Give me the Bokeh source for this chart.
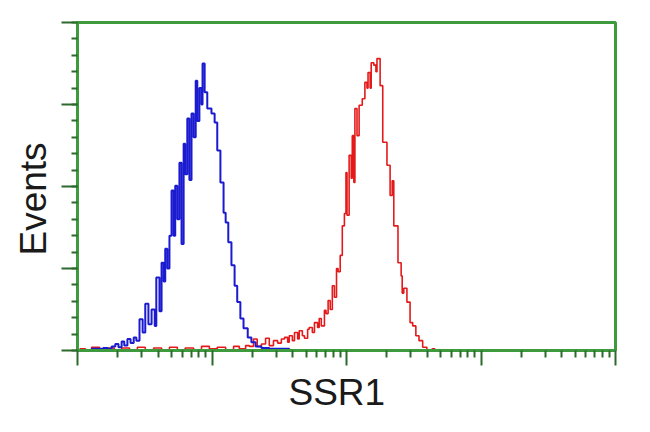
from bokeh.plotting import figure
from bokeh.models import Range1d, FixedTicker, CustomJSTickFormatter, Title
from bokeh.embed import file_html
from bokeh.resources import INLINE

# Histogram data: channel (0-1024 over 4 log decades) and event counts
blue_channel = [4, 19, 27, 38, 49, 57, 65, 72, 78, 84, 89, 95, 101, 107, 112, 118, 124, 129, 135, 141,
                147, 150, 156, 160, 164, 167, 171, 175, 179, 183, 186, 190, 194, 198, 202, 205, 209, 213,
                217, 221, 225, 228, 232, 236, 238, 242, 247, 255, 261, 266, 272, 278, 282, 287, 293, 299,
                304, 310, 316, 324, 331, 339, 350, 365, 384, 403, 422]
blue_counts = [0, 0, 2, 2, 3, 2, 5, 8, 4, 11, 6, 14, 9, 16, 12, 38, 22, 57, 32, 50,
               30, 89, 48, 107, 84, 124, 100, 140, 195, 140, 201, 160, 229, 130, 252, 215, 283, 208,
               289, 260, 329, 280, 320, 300, 350, 315, 295, 289, 278, 244, 205, 168, 156, 132, 104, 79,
               59, 39, 27, 16, 10, 5, 3, 2, 2, 0, 0]

red_channel = [4, 15, 27, 42, 57, 70, 84, 99, 114, 129, 145, 160, 175, 190, 205, 221, 236, 251, 266, 282,
               297, 308, 320, 327, 335, 342, 350, 358, 365, 373, 381, 388, 394, 400, 403, 409, 413, 419,
               422, 428, 432, 438, 441, 447, 451, 457, 460, 464, 470, 473, 477, 481, 485, 489, 493, 496,
               500, 504, 508, 511, 513, 517, 521, 523, 526, 528, 532, 536, 542, 547, 551, 553, 557, 559,
               564, 568, 570, 576, 581, 589, 595, 599, 602, 610, 616, 618, 621, 627, 633, 638, 644, 650,
               657, 665, 675, 680, 697]
red_counts = [2, 0, 4, 1, 3, 0, 3, 1, 4, 1, 3, 0, 4, 1, 3, 1, 5, 2, 4, 1,
              5, 2, 6, 5, 14, 5, 8, 15, 6, 12, 9, 14, 16, 10, 18, 12, 22, 14,
              24, 18, 15, 26, 28, 22, 34, 28, 39, 30, 49, 45, 61, 50, 79, 65, 100, 96,
              116, 152, 167, 217, 165, 238, 210, 262, 205, 295, 262, 299, 307, 327, 320, 339, 320, 351,
              348, 340, 356, 323, 254, 226, 189, 207, 152, 107, 91, 70, 76, 59, 34, 30, 18, 12,
              4, 0, 2, 0, 0]

x_label = "SSR1"
y_label = "Events"

CH_PER_DECADE = 256.0
blue_x = [10 ** (c / CH_PER_DECADE) for c in blue_channel]
red_x = [10 ** (c / CH_PER_DECADE) for c in red_channel]

GREEN = "#3d9a3d"
TICK = "#2c6a2c"

p = figure(width=650, height=432, output_backend="svg", toolbar_location=None,
           x_axis_type="log", x_range=Range1d(1, 10000), y_range=Range1d(0, 400),
           min_border_left=77, min_border_right=35, min_border_top=22, min_border_bottom=82)

p.step(red_x, red_counts, mode="after", line_color="#e41a1a", line_width=1.6)
p.step(blue_x, blue_counts, mode="after", line_color="#1a1ad0", line_width=2)

p.xgrid.visible = False
p.ygrid.visible = False
p.outline_line_color = GREEN
p.outline_line_width = 3
p.background_fill_color = "white"
p.border_fill_color = "white"

xmajor = [1, 10, 100, 1000, 10000]
xminor = [k * 10 ** d for d in range(4) for k in range(2, 10)]
p.xaxis.ticker = FixedTicker(ticks=xmajor, minor_ticks=xminor)
p.yaxis.ticker = FixedTicker(ticks=[0, 100, 200, 300, 400],
                             minor_ticks=[v for v in range(0, 401, 20)])

for ax in (p.xaxis[0], p.yaxis[0]):
    ax.axis_line_color = GREEN
    ax.axis_line_width = 3
    ax.major_tick_line_color = TICK
    ax.minor_tick_line_color = TICK
    ax.major_tick_line_width = 2
    ax.minor_tick_line_width = 2
    ax.major_tick_in = 0
    ax.minor_tick_in = 0
    ax.formatter = CustomJSTickFormatter(code="return '';")
    ax.major_label_text_font_size = "1px"
    ax.major_label_standoff = 0

p.xaxis.major_tick_out = 15
p.xaxis.minor_tick_out = 7
p.yaxis.major_tick_out = 16
p.yaxis.minor_tick_out = 6

# Axis titles placed as side titles so they can sit slightly off-centre like the reference
p.add_layout(Title(text=x_label, align="left", offset=211, standoff=9,
                   text_font="Liberation Sans", text_font_size="37px",
                   text_font_style="normal", text_color="#1a1a1a"), "below")
p.add_layout(Title(text=y_label, align="left", offset=95, standoff=15,
                   text_font="Liberation Sans", text_font_size="37px",
                   text_font_style="normal", text_color="#1a1a1a"), "left")

open("out.html", "w").write(file_html(p, INLINE))
